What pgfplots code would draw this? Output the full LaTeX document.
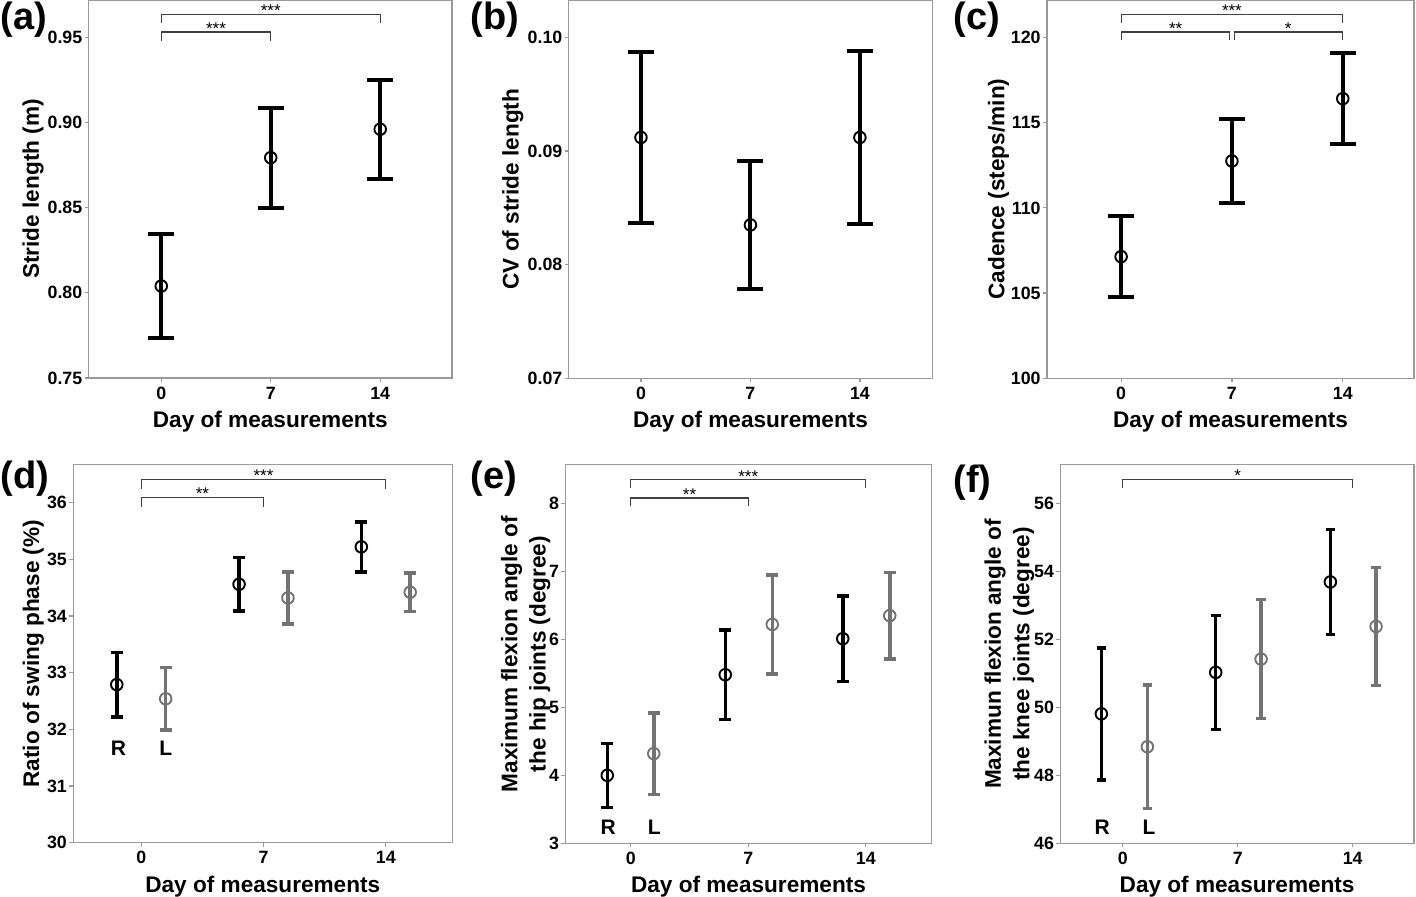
\documentclass[border=0pt]{standalone}
\usepackage{fontspec}
\setmainfont{Liberation Sans}
\usepackage{pgfplots}
\pgfplotsset{compat=1.18}
\definecolor{Lgray}{HTML}{737373}
\definecolor{framec}{HTML}{9A9A9A}
\definecolor{brk}{HTML}{404040}
\pgfplotsset{
  panel/.style={
    scale only axis, anchor=south west, clip=false,
    axis line style={framec, line width=0.7pt},
    tick pos=left, tick align=outside, major tick length=2pt,
    tick style={framec, line width=0.6pt},
    /pgf/number format/assume math mode=true,
    tick label style={font=\fontsize{8.9}{10}\selectfont\bfseries, text=black},
    xtick={0,7,14},
    xticklabel style={anchor=base, yshift=-8.5pt},
    yticklabel style={inner sep=0pt, xshift=-1pt},
    scaled y ticks=false,
    label style={font=\fontsize{11.3}{14.2}\selectfont\bfseries},
    xlabel={Day of measurements},
    xlabel style={at={(axis description cs:0.5,0)}, anchor=base, yshift=-24.8pt},
  },
  ylab/.style={ylabel style={at={([xshift=-#1]axis description cs:0,0.5)}, anchor=center, align=center}},
  big/.style={only marks, draw=#1, mark=o, mark size=2.9pt, mark options={line width=0.95pt, #1},
    error bars/.cd, y dir=both, y explicit,
    error bar style={line width=2pt, #1},
    error mark options={rotate=90, mark size=6.5pt, line width=2pt, #1}},
  small/.style 2 args={only marks, draw=#1, mark=o, mark size=2.9pt, mark options={line width=0.95pt, #1},
    error bars/.cd, y dir=both, y explicit,
    error bar style={line width=1.75pt, #1},
    error mark options={rotate=90, mark size=#2, line width=1.75pt, #1}},
  brack/.style={brk, line width=0.6pt, mark=none},
}
\newcommand{\stars}[3]{\node[font=\fontsize{8.5}{8.5}\selectfont, anchor=base, yshift=-1.2pt] at (axis cs:#1,#2) {#3};}
\newcommand{\side}[3]{\node[font=\fontsize{10.5}{11}\selectfont\bfseries, anchor=center] at (axis cs:#1,#2) {#3};}
\begin{document}
\begin{tikzpicture}
\useasboundingbox (0,0) rectangle (708pt,-448.5pt);
% (a)
\begin{axis}[panel, at={(44.35pt,-189pt)}, width=181.65pt, height=189pt,
  xmin=-4.64, xmax=18.59, ymin=0.75, ymax=0.972,
  ytick={0.75,0.80,0.85,0.90,0.95},
  yticklabel style={/pgf/number format/.cd, fixed, fixed zerofill, precision=2},
  ylab=27.8pt, ylabel={Stride length (m)}]
\addplot[big=black] coordinates {(0,0.804) +- (0,0.0304) (7,0.8794) +- (0,0.0293) (14,0.8961) +- (0,0.0291)};
\addplot[brack] coordinates {(0,0.9482) (0,0.9532) (7,0.9532) (7,0.9482)};
\addplot[brack] coordinates {(0,0.9585) (0,0.9635) (14,0.9635) (14,0.9585)};
\stars{3.5}{0.9532}{***}
\stars{7}{0.9635}{***}
\end{axis}
% (b)
\begin{axis}[panel, at={(284.35pt,-189.15pt)}, width=181.8pt, height=189.15pt,
  xmin=-4.62, xmax=18.63, ymin=0.07, ymax=0.1033,
  ytick={0.07,0.08,0.09,0.10},
  yticklabel style={/pgf/number format/.cd, fixed, fixed zerofill, precision=2},
  ylab=28pt, ylabel={CV of stride length}]
\addplot[big=black] coordinates {(0,0.0912) +- (0,0.0075) (7,0.0835) +- (0,0.0056) (14,0.0912) +- (0,0.0076)};
\end{axis}
% (c)
\begin{axis}[panel, at={(523.5pt,-189.15pt)}, width=183.5pt, height=189.15pt,
  xmin=-4.68, xmax=18.5, ymin=100, ymax=122.2,
  ytick={100,105,110,115,120},
  ylab=24.3pt, ylabel={Cadence (steps/min)}]
\addplot[big=black] coordinates {(0,107.14) +- (0,2.36) (7,112.75) +- (0,2.45) (14,116.41) +- (0,2.66)};
\addplot[brack] coordinates {(0,119.86) (0,120.32) (6.85,120.32) (6.85,119.86)};
\addplot[brack] coordinates {(7.15,119.86) (7.15,120.32) (14,120.32) (14,119.86)};
\addplot[brack] coordinates {(0,120.84) (0,121.35) (14,121.35) (14,120.84)};
\stars{3.45}{120.32}{**}
\stars{10.55}{120.32}{*}
\stars{7}{121.35}{***}
\end{axis}
% (d)
\begin{axis}[panel, at={(36.65pt,-421.35pt)}, width=189.5pt, height=189pt,
  xmin=-3.89, xmax=17.81, ymin=30, ymax=36.67,
  ytick={30,31,32,33,34,35,36},
  ylab=20pt, ylabel={Ratio of swing phase (\%)}]
\addplot[small={black}{3pt}] coordinates {(-1.4,32.79) +- (0,0.57) (5.6,34.56) +- (0,0.47) (12.6,35.22) +- (0,0.44)};
\addplot[small={Lgray}{3pt}] coordinates {(1.4,32.54) +- (0,0.55) (8.4,34.32) +- (0,0.46) (15.4,34.42) +- (0,0.34)};
\addplot[brack] coordinates {(0,35.93) (0,36.09) (7,36.09) (7,35.93)};
\addplot[brack] coordinates {(0,36.25) (0,36.41) (14,36.41) (14,36.25)};
\stars{3.5}{36.09}{**}
\stars{7}{36.41}{***}
\side{-1.3}{31.66}{R}
\side{1.4}{31.66}{L}
\end{axis}
% (e)
\begin{axis}[panel, at={(282.65pt,-421.65pt)}, width=183.2pt, height=189.3pt,
  xmin=-3.9, xmax=17.93, ymin=3, ymax=8.57,
  ytick={3,4,5,6,7,8},
  ylab=19.8pt, ylabel={Maximum flexion angle of\\the hip joints (degree)}]
\addplot[small={black}{3pt}] coordinates {(-1.4,4.0) +- (0,0.47) (5.63,5.48) +- (0,0.66) (12.63,6.01) +- (0,0.63)};
\addplot[small={Lgray}{3pt}] coordinates {(1.37,4.32) +- (0,0.6) (8.43,6.22) +- (0,0.73) (15.43,6.35) +- (0,0.635)};
\addplot[brack] coordinates {(0,7.96) (0,8.08) (7,8.08) (7,7.96)};
\addplot[brack] coordinates {(0,8.23) (0,8.35) (14,8.35) (14,8.23)};
\stars{3.5}{8.08}{**}
\stars{7}{8.35}{***}
\side{-1.34}{3.23}{R}
\side{1.4}{3.23}{L}
\end{axis}
% (f)
\begin{axis}[panel, at={(530.15pt,-421.65pt)}, width=176.85pt, height=189.3pt,
  xmin=-3.8, xmax=17.73, ymin=46, ymax=57.14,
  ytick={46,48,50,52,54,56},
  ylab=25.5pt, ylabel={Maximun flexion angle of\\the knee joints (degree)}]
\addplot[small={black}{2.4pt}] coordinates {(-1.3,49.81) +- (0,1.94) (5.66,51.03) +- (0,1.68) (12.64,53.69) +- (0,1.54)};
\addplot[small={Lgray}{2.4pt}] coordinates {(1.5,48.84) +- (0,1.82) (8.42,51.42) +- (0,1.75) (15.42,52.38) +- (0,1.74)};
\addplot[brack] coordinates {(0,56.46) (0,56.71) (14,56.71) (14,56.46)};
\stars{7}{56.71}{*}
\side{-1.25}{46.46}{R}
\side{1.6}{46.46}{L}
\end{axis}
% panel letters
\begin{scope}[every node/.style={font=\fontsize{19}{19}\selectfont\bfseries, anchor=base west, inner sep=0pt}]
\node at (0pt,-15pt) {(a)};
\node at (235pt,-15pt) {(b)};
\node at (476.5pt,-15pt) {(c)};
\node at (0pt,-244pt) {(d)};
\node at (235pt,-244pt) {(e)};
\node at (476.5pt,-246pt) {(f)};
\end{scope}
\end{tikzpicture}
\end{document}
